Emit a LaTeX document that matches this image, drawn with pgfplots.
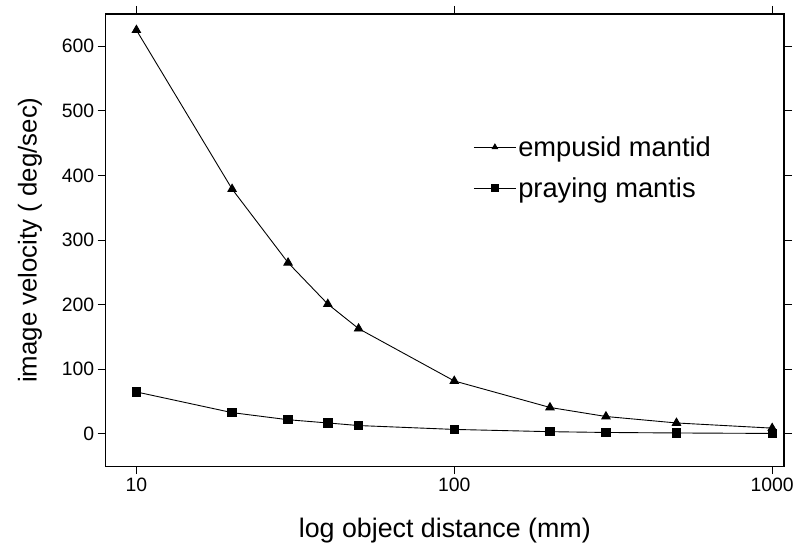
\documentclass[border=0pt]{standalone}
\usepackage{fontspec}
\setmainfont{Liberation Sans}
\usepackage{pgfplots}
\pgfplotsset{compat=1.18}

\begin{document}
\begin{tikzpicture}
\begin{semilogxaxis}[
    name=ax,
    scale only axis,
    width=681bp, height=454bp,
    xmin=8, xmax=1090, ymin=-50, ymax=650,
    xtick={10,100,1000}, xticklabels={10,100,1000},
    xminorticks=false,
    ytick={0,100,200,300,400,500,600},
    tick align=outside,
    major tick length=8bp,
    tick style={line width=1.1pt, black},
    axis line style={line width=1.4pt},
    tick label style={font=\fontsize{19.5}{22}\selectfont},
    /pgf/number format/assume math mode=true,
    xlabel={log object distance (mm)},
    ylabel={image velocity ( deg/sec)},
    xlabel style={font=\fontsize{27}{30}\selectfont, yshift=-20bp},
    ylabel style={font=\fontsize{26}{30}\selectfont, yshift=13bp},
    legend style={at={(0.542,0.734)}, anchor=north west, draw=none, fill=none,
        inner sep=0pt, font=\fontsize{27.5}{30}\selectfont, row sep=16bp},
    legend cell align=left,
]
\addplot[black, line width=0.9pt, mark=triangle*, mark size=4.8bp,
    legend image code/.code={
        \draw[black, line width=0.9pt] (0bp,0bp) -- (42bp,0bp);
        \fill[black] plot[mark=triangle*, mark size=3bp] coordinates {(21bp,0bp)};
    }] coordinates {
    (10,625)(20,379)(30,265)(40,201)(50,163)(100,82)(200,41)(300,27)(500,17)(1000,9)
};
\addlegendentry{empusid mantid}

\addplot[black, line width=0.9pt, mark=square*, mark size=4.2bp,
    legend image code/.code={
        \draw[black, line width=0.9pt] (0bp,0bp) -- (42bp,0bp);
        \fill[black] plot[mark=square*, mark size=3.5bp] coordinates {(21bp,0bp)};
    }] coordinates {
    (10,65)(20,33)(30,22)(40,17)(50,13)(100,7)(200,3.5)(300,2.3)(500,1.5)(1000,0.8)
};
\addlegendentry{praying mantis}
\end{semilogxaxis}
\path (ax.south west) ++(-106bp,-80bp) (ax.north east) ++(10bp,14bp);
\end{tikzpicture}
\end{document}
